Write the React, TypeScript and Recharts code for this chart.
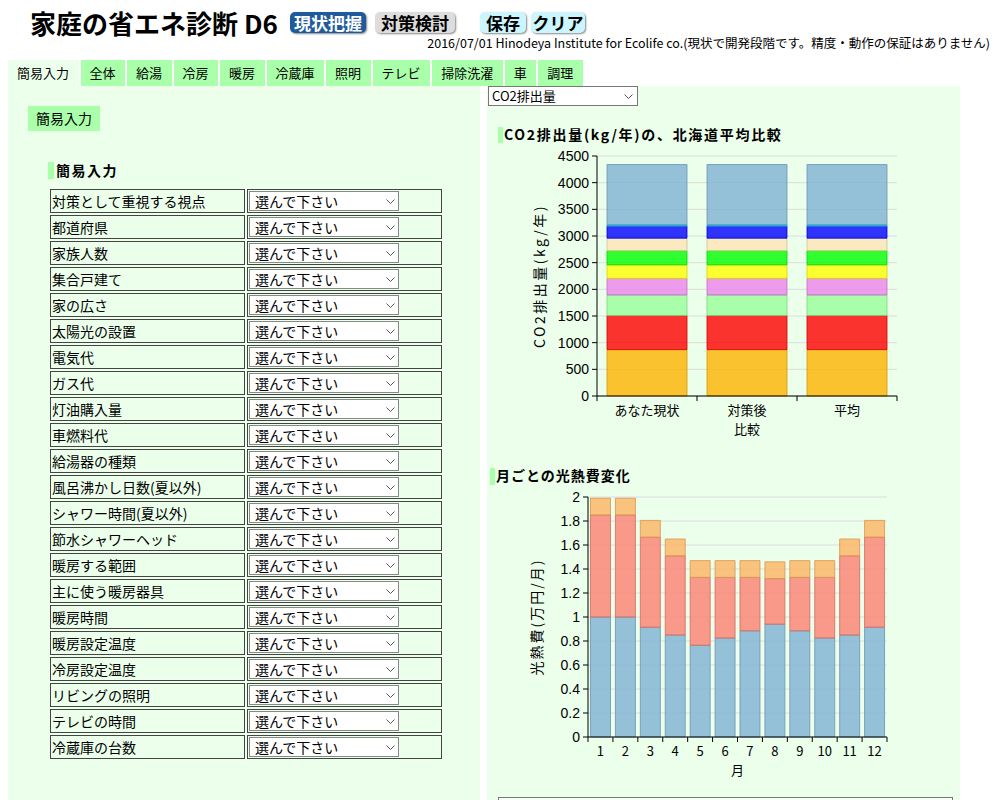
import React from "react"
import { Bar, BarChart, CartesianGrid, XAxis, YAxis } from "recharts"

const FONT = '"Noto Sans CJK JP", "Liberation Sans", sans-serif'
const NUM_FONT = '"Liberation Sans", "Noto Sans CJK JP", sans-serif'
const PANEL = "#EBFFEB"
const TAB_GREEN = "#AAFFAA"

// CO2 chart: categories and stacked segments (bottom -> top), kg/年
const co2Categories = ["あなた現状", "対策後", "平均"]
const co2Seg1 = [870, 870, 870]
const co2Seg2 = [640, 640, 640]
const co2Seg3 = [385, 385, 385]
const co2Seg4 = [310, 310, 310]
const co2Seg5 = [255, 255, 255]
const co2Seg6 = [265, 265, 265]
const co2Seg7 = [235, 235, 235]
const co2Seg8 = [225, 225, 225]
const co2Seg9 = [25, 25, 25]
const co2Seg10 = [1130, 1130, 1130]
const co2Ticks = [0, 500, 1000, 1500, 2000, 2500, 3000, 3500, 4000, 4500]

const co2Series = [co2Seg1, co2Seg2, co2Seg3, co2Seg4, co2Seg5, co2Seg6, co2Seg7, co2Seg8, co2Seg9, co2Seg10]
const co2Fills = ["#FFB300", "#FF0000", "#99FF99", "#EE82EE", "#FFFF00", "#00FF00", "#FFE4B5", "#0000FF", "#00BFFF", "#80B1D3"]
const co2Strokes = ["#D59600", "#D50000", "#80D580", "#C76DC7", "#D5D500", "#00D500", "#D5BF97", "#0000D5", "#00A0D5", "#6B94B1"]

// monthly energy cost, 万円/月 (bottom -> top)
const months = ["1", "2", "3", "4", "5", "6", "7", "8", "9", "10", "11", "12"]
const costLower = [1.0, 1.0, 0.915, 0.85, 0.765, 0.825, 0.885, 0.94, 0.885, 0.825, 0.85, 0.915]
const costMiddle = [0.85, 0.85, 0.75, 0.66, 0.565, 0.505, 0.445, 0.38, 0.445, 0.505, 0.66, 0.75]
const costUpper = [0.14, 0.14, 0.14, 0.14, 0.14, 0.14, 0.14, 0.14, 0.14, 0.14, 0.14, 0.14]
const costTicks = [0, 0.2, 0.4, 0.6, 0.8, 1, 1.2, 1.4, 1.6, 1.8, 2]

const co2Data = co2Categories.map((name, i) => {
  const row: Record<string, any> = { name }
  co2Series.forEach((s, j) => {
    row["s" + j] = s[i]
  })
  return row
})

const costData = months.map((m, i) => ({
  month: m,
  lower: costLower[i],
  middle: costMiddle[i],
  upper: costUpper[i],
}))

const tabs = ["簡易入力", "全体", "給湯", "冷房", "暖房", "冷蔵庫", "照明", "テレビ", "掃除洗濯", "車", "調理"]

const inputLabels = [
  "対策として重視する視点",
  "都道府県",
  "家族人数",
  "集合戸建て",
  "家の広さ",
  "太陽光の設置",
  "電気代",
  "ガス代",
  "灯油購入量",
  "車燃料代",
  "給湯器の種類",
  "風呂沸かし日数(夏以外)",
  "シャワー時間(夏以外)",
  "節水シャワーヘッド",
  "暖房する範囲",
  "主に使う暖房器具",
  "暖房時間",
  "暖房設定温度",
  "冷房設定温度",
  "リビングの照明",
  "テレビの時間",
  "冷蔵庫の台数",
]

// x-axis tick: label at the band centre, tick marks at the band edges
function BandTick(props: any) {
  const { x, y, payload, index, visibleTicksCount } = props
  const half = payload && payload.offset ? payload.offset : 0
  const top = y - 7
  return (
    <g>
      <line x1={x - half} x2={x - half} y1={top} y2={top + 5} stroke="#000" />
      {index === visibleTicksCount - 1 && (
        <line x1={x + half} x2={x + half} y1={top} y2={top + 5} stroke="#000" />
      )}
      <text x={x} y={y} dy="0.9em" textAnchor="middle" fill="#000" fontSize={13} fontFamily={FONT}>
        {payload.value}
      </text>
    </g>
  )
}

function Chevron({ left, top }: { left: number; top: number }) {
  return (
    <svg width={9} height={6} style={{ position: "absolute", left, top }}>
      <polyline points="0.5,0.5 4.5,4.5 8.5,0.5" fill="none" stroke="#555" strokeWidth={1} />
    </svg>
  )
}

function Co2Chart() {
  return (
    <div style={{ position: "absolute", left: 490, top: 145 }}>
      <BarChart
        width={420}
        height={300}
        data={co2Data}
        margin={{ top: 11, right: 13, left: 0, bottom: 0 }}
        barCategoryGap="10%"
      >
        <CartesianGrid vertical={false} stroke="#dcdcdc" />
        <XAxis
          dataKey="name"
          height={49}
          interval={0}
          axisLine={{ stroke: "#000" }}
          tickLine={false}
          tickSize={5}
          tickMargin={2}
          tick={(p: any) => <BandTick {...p} />}
          label={{ value: "比較", position: "insideBottom", offset: 11, fill: "#000", fontSize: 13, fontFamily: FONT }}
        />
        <YAxis
          width={107}
          domain={[0, 4500]}
          ticks={co2Ticks}
          interval={0}
          axisLine={{ stroke: "#000" }}
          tickLine={{ stroke: "#000" }}
          tickSize={5}
          tickMargin={3}
          tick={{ fill: "#000", fontSize: 14, fontFamily: NUM_FONT }}
          label={{
            value: "CO2排出量(kg/年)",
            angle: -90,
            position: "insideLeft",
            offset: 50,
            style: { textAnchor: "middle", letterSpacing: 2.5 },
            fill: "#000",
            fontSize: 14,
            fontFamily: FONT,
          }}
        />
        {co2Series.map((_, j) => (
          <Bar
            key={j}
            dataKey={"s" + j}
            stackId="co2"
            fill={co2Fills[j]}
            fillOpacity={0.8}
            stroke={co2Strokes[j]}
            strokeOpacity={0.8}
            isAnimationActive={false}
          />
        ))}
      </BarChart>
    </div>
  )
}

function CostChart() {
  return (
    <div style={{ position: "absolute", left: 490, top: 486 }}>
      <BarChart
        width={420}
        height={300}
        data={costData}
        margin={{ top: 11, right: 23, left: 0, bottom: 0 }}
        barCategoryGap="10%"
      >
        <CartesianGrid vertical={false} stroke="#dcdcdc" />
        <XAxis
          dataKey="month"
          height={49}
          interval={0}
          axisLine={{ stroke: "#000" }}
          tickLine={false}
          tickSize={5}
          tickMargin={2}
          tick={(p: any) => <BandTick {...p} />}
          label={{ value: "月", position: "insideBottom", offset: 11, fill: "#000", fontSize: 13, fontFamily: FONT }}
        />
        <YAxis
          width={98}
          domain={[0, 2]}
          ticks={costTicks}
          interval={0}
          axisLine={{ stroke: "#000" }}
          tickLine={{ stroke: "#000" }}
          tickSize={5}
          tickMargin={3}
          tick={{ fill: "#000", fontSize: 14, fontFamily: NUM_FONT }}
          label={{
            value: "光熱費(万円/月)",
            angle: -90,
            position: "insideLeft",
            offset: 47,
            style: { textAnchor: "middle", letterSpacing: 2 },
            fill: "#000",
            fontSize: 14,
            fontFamily: FONT,
          }}
        />
        <Bar dataKey="lower" stackId="cost" fill="#80B1D3" fillOpacity={0.8} stroke="#6B94B1" strokeOpacity={0.8} isAnimationActive={false} />
        <Bar dataKey="middle" stackId="cost" fill="#FB8072" fillOpacity={0.8} stroke="#D26B5F" strokeOpacity={0.8} isAnimationActive={false} />
        <Bar dataKey="upper" stackId="cost" fill="#FDB462" fillOpacity={0.8} stroke="#D49752" strokeOpacity={0.8} isAnimationActive={false} />
      </BarChart>
    </div>
  )
}

const abs = (left: number, top: number, extra: React.CSSProperties = {}): React.CSSProperties => ({
  position: "absolute",
  left,
  top,
  ...extra,
})

function Header() {
  const btn = (bg: string, color: string): React.CSSProperties => ({
    position: "absolute",
    top: 12,
    height: 21,
    lineHeight: "21px",
    background: bg,
    color,
    borderRadius: 5,
    fontWeight: "bold",
    fontSize: 17,
    textAlign: "center",
    boxShadow: "1px 1px 2px #888",
  })
  return (
    <>
      <div style={abs(30, 4, { fontSize: 26, fontWeight: "bold", whiteSpace: "nowrap" })}>家庭の省エネ診断 D6</div>
      <div style={{ ...btn("#1F5B9C", "#fff"), left: 290, width: 76 }}>現状把握</div>
      <div style={{ ...btn("#DDDDDD", "#000"), left: 375, width: 80 }}>対策検討</div>
      <div style={{ ...btn("#CCF6FF", "#000"), left: 480, width: 46 }}>保存</div>
      <div style={{ ...btn("#CCF6FF", "#000"), left: 531, width: 54 }}>クリア</div>
      <div
        style={{
          position: "absolute",
          right: 17,
          top: 33,
          fontSize: 12.5,
          whiteSpace: "nowrap",
        }}
      >
        2016/07/01 Hinodeya Institute for Ecolife co.(現状で開発段階です。精度・動作の保証はありません)
      </div>
      <div style={abs(8, 60, { display: "flex", height: 26 })}>
        {tabs.map((t, i) => (
          <div
            key={t}
            style={{
              background: i === 0 ? PANEL : TAB_GREEN,
              paddingLeft: 9,
              paddingRight: 9.5,
              marginRight: 2,
              fontSize: 13,
              lineHeight: "26px",
            }}
          >
            {t}
          </div>
        ))}
      </div>
    </>
  )
}

function LeftPanel() {
  return (
    <div style={abs(8, 86, { width: 472, height: 714, background: PANEL })}>
      <div style={abs(20, 20, { width: 72, height: 25, background: TAB_GREEN, fontSize: 14, lineHeight: "25px", textAlign: "center" })}>
        簡易入力
      </div>
      <div style={abs(40, 76, { width: 6, height: 17, background: TAB_GREEN })} />
      <div style={abs(48, 74, { fontSize: 14, fontWeight: "bold", letterSpacing: 1.5 })}>簡易入力</div>
      {inputLabels.map((label, i) => {
        const top = 103 + i * 26
        return (
          <React.Fragment key={label}>
            <div
              style={abs(42, top, {
                width: 195,
                height: 24,
                border: "1px solid #444",
                boxSizing: "border-box",
                fontSize: 14,
                lineHeight: "22px",
                paddingLeft: 1,
                whiteSpace: "nowrap",
              })}
            >
              {label}
            </div>
            <div style={abs(239, top, { width: 195, height: 24, border: "1px solid #444", boxSizing: "border-box" })} />
            <div
              style={abs(241, top + 2, {
                width: 150,
                height: 20,
                border: "1px solid #888",
                boxSizing: "border-box",
                background: "#fff",
                fontSize: 14,
                lineHeight: "18px",
                paddingLeft: 5,
              })}
            >
              選んで下さい
            </div>
            <Chevron left={378} top={top + 10} />
          </React.Fragment>
        )
      })}
    </div>
  )
}

function RightPanel() {
  return (
    <>
      <div style={abs(487, 86, { width: 473, height: 714, background: PANEL })} />
      <div
        style={abs(488, 86, {
          width: 150,
          height: 20,
          border: "1px solid #777",
          boxSizing: "border-box",
          background: "#fff",
          fontSize: 13,
          lineHeight: "18px",
          paddingLeft: 3,
        })}
      >
        CO2排出量
      </div>
      <Chevron left={624} top={94} />
      <div style={abs(498, 127, { width: 5, height: 16, background: TAB_GREEN })} />
      <div style={abs(504, 124, { fontSize: 14, fontWeight: "bold", letterSpacing: 1.7, whiteSpace: "nowrap" })}>
        CO2排出量(kg/年)の、北海道平均比較
      </div>
      <Co2Chart />
      <div style={abs(490, 468, { width: 5, height: 17, background: TAB_GREEN })} />
      <div style={abs(496, 465, { fontSize: 14, fontWeight: "bold", letterSpacing: 1, whiteSpace: "nowrap" })}>
        月ごとの光熱費変化
      </div>
      <CostChart />
      <div style={abs(498, 797, { width: 455, height: 20, border: "1px solid #777", boxSizing: "border-box", background: "#f8fff8" })} />
    </>
  )
}

export default function App() {
  return (
    <div
      style={{
        position: "absolute",
        left: 0,
        top: 0,
        width: 1007,
        height: 800,
        overflow: "hidden",
        background: "#fff",
        fontFamily: FONT,
        color: "#000",
      }}
    >
      <Header />
      <LeftPanel />
      <RightPanel />
    </div>
  )
}
